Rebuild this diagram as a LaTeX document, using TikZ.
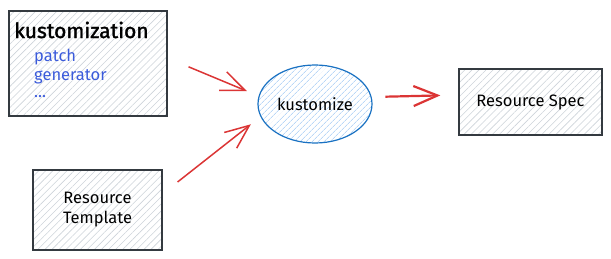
\documentclass[tikz,border=0pt]{standalone}
\usepackage{fontspec}
\setmainfont{Fira Sans}
\usetikzlibrary{shapes.geometric,patterns.meta,arrows.meta}

\definecolor{inkgray}{HTML}{343A40}
\definecolor{hatchgray}{HTML}{CDD3D9}
\definecolor{inkblue}{HTML}{1971C2}
\definecolor{hatchblue}{HTML}{94C2F2}
\definecolor{listblue}{HTML}{3B5BDB}
\definecolor{arrowred}{HTML}{DB3535}

\begin{document}
\begin{tikzpicture}[x=1pt,y=-1pt,font=\fontsize{16.5}{20}\selectfont,
  box/.style={draw=inkgray,line width=1.3pt,
    pattern={Lines[angle=45,distance=5pt,line width=0.6pt]},pattern color=hatchgray},
  flow/.style={draw=arrowred,line width=1.5pt,-{Straight Barb[length=24pt,width=20pt]}},
  label/.style={inner sep=0pt,anchor=west}]
\useasboundingbox (0,0) rectangle (611,259);
% inputs
\node[box,minimum width=158pt,minimum height=105pt] (kz) at (88,63.5) {};
\node[label,font=\fontsize{21}{24}\selectfont\addfontfeatures{FakeBold=1.5}] (kztitle) at (14,30) {kustomization};
\node[label,text=listblue] (patch) at (34,57) {patch};
\node[label,text=listblue] (generator) at (34,77) {generator};
\node[label,text=listblue] (more) at (34,97) {...};
\node[box,minimum width=129pt,minimum height=80pt,align=center] (tmpl) at (97.5,210) {Resource\\Template};
% the kustomize step
\node[ellipse,draw=inkblue,line width=1.2pt,inner sep=0pt,
  minimum width=114pt,minimum height=78pt,
  pattern={Lines[angle=45,distance=4pt,line width=0.6pt]},pattern color=hatchblue] (kust) at (315,104) {kustomize};
% output
\node[box,minimum width=143pt,minimum height=66pt] (spec) at (530.5,102) {Resource Spec};
% arrows
\draw[flow,shorten <=23pt,shorten >=13pt] (kz.4) -- (kust.172);
\draw[flow,shorten <=19pt,shorten >=12.5pt] (tmpl.14) -- (kust.193);
\draw[flow,line width=2.2pt,shorten <=13pt,shorten >=18pt] ([yshift=7pt]kust.east) -- ([yshift=7pt]spec.west);
\end{tikzpicture}
\end{document}
